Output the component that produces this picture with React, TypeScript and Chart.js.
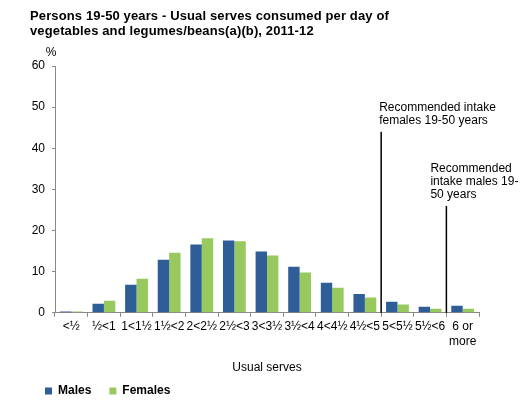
import { useEffect, useRef } from 'react';
import { Chart, registerables } from 'chart.js';
Chart.register(...registerables);

const FONT = '"Liberation Sans", Arial, sans-serif';

const titleLines = [
  'Persons 19-50 years - Usual serves consumed per day of',
  'vegetables and legumes/beans(a)(b), 2011-12',
];
const categories: (string | string[])[] = [
  '<½', '½<1', '1<1½', '1½<2', '2<2½', '2½<3', '3<3½', '3½<4', '4<4½', '4½<5', '5<5½', '5½<6', ['6 or', 'more'],
];
const males = [0.3, 2.2, 6.8, 12.9, 16.6, 17.6, 14.9, 11.2, 7.3, 4.6, 2.7, 1.5, 1.7];
const females = [0.3, 2.9, 8.3, 14.6, 18.1, 17.4, 13.9, 9.8, 6.1, 3.7, 2.0, 1.0, 1.0];
const yTicksMax = 60;
const yStep = 10;
const yUnitLabel = '%';
const xAxisTitle = 'Usual serves';

// Recommended intake reference lines (category position, top value, label lines)
const refPositions = [9.5, 11.5];
const refTops = [44, 26];
const refLabels = [
  ['Recommended intake', 'females 19-50 years'],
  ['Recommended', 'intake males 19-', '50 years'],
];
const refLabelOffsets = [-2, -16];

const overlayPlugin = {
  id: 'overlay',
  afterDraw(chart: any) {
    const ctx = chart.ctx;
    const x = chart.scales.x;
    const y = chart.scales.y;
    ctx.save();
    // title
    ctx.fillStyle = '#000';
    ctx.font = `bold 13px ${FONT}`;
    (ctx as any).letterSpacing = '0.13px';
    ctx.textAlign = 'left';
    ctx.textBaseline = 'alphabetic';
    titleLines.forEach((t, i) => ctx.fillText(t, 30, 20 + i * 15));
    (ctx as any).letterSpacing = '0px';
    // unit label
    ctx.font = `12px ${FONT}`;
    ctx.textAlign = 'center';
    ctx.fillText(yUnitLabel, chart.chartArea.left - 4, 56);
    // reference lines
    refPositions.forEach((p, i) => {
      const px = x.getPixelForValue(p);
      const top = y.getPixelForValue(refTops[i]);
      const bottom = y.getPixelForValue(0);
      ctx.strokeStyle = '#000';
      ctx.lineWidth = 1.5;
      ctx.beginPath();
      ctx.moveTo(px, top);
      ctx.lineTo(px, bottom);
      ctx.stroke();
      ctx.textAlign = 'left';
      ctx.font = `12px ${FONT}`;
      const lines = refLabels[i];
      lines.forEach((t, j) => {
        ctx.fillText(t, px + refLabelOffsets[i], top - 8 - (lines.length - 1 - j) * 13);
      });
    });
    ctx.restore();
  },
};

export default function App() {
  const ref = useRef<HTMLCanvasElement>(null);
  useEffect(() => {
    Chart.defaults.font.family = FONT;
    Chart.defaults.color = '#000';
    const chart = new Chart(ref.current!, {
      type: 'bar',
      data: {
        labels: categories,
        datasets: [
          { label: 'Males', data: males, backgroundColor: '#2F5D98', borderWidth: 0 },
          { label: 'Females', data: females, backgroundColor: '#98C95E', borderWidth: 0 },
        ],
      },
      options: {
        animation: false,
        responsive: true,
        maintainAspectRatio: false,
        layout: { padding: { left: 27, right: 47, top: 66, bottom: 6 } },
        datasets: { bar: { categoryPercentage: 0.7, barPercentage: 1 } } as any,
        plugins: {
          title: { display: false },
          tooltip: { enabled: false },
          legend: {
            position: 'bottom',
            align: 'start',
            labels: {
              boxWidth: 7,
              boxHeight: 7,
              padding: 18,
              color: '#000',
              font: { size: 12, weight: 'bold', family: FONT },
            },
          },
        },
        scales: {
          x: {
            grid: { display: true, drawOnChartArea: false, drawTicks: true, tickLength: 4, color: '#888' },
            border: { display: true, color: '#888', width: 1 },
            ticks: { autoSkip: false, maxRotation: 0, minRotation: 0, padding: 3, color: '#000', font: { size: 12, family: FONT } },
            title: { display: true, text: xAxisTitle, color: '#000', font: { size: 12, family: FONT }, padding: { top: 9, bottom: -8 } },
          },
          y: {
            min: 0,
            max: yTicksMax,
            grid: { display: true, drawOnChartArea: false, drawTicks: true, tickLength: 3, color: '#888' },
            border: { display: true, color: '#888', width: 1 },
            ticks: { stepSize: yStep, padding: 7, color: '#000', font: { size: 12, family: FONT } },
            afterFit(scale: any) {
              scale.width = 28;
            },
          },
        },
      },
      plugins: [overlayPlugin],
    });
    return () => chart.destroy();
  }, []);
  return (
    <div style={{ position: 'fixed', left: 0, top: 0, width: 526, height: 413, background: '#fff' }}>
      <canvas ref={ref} />
    </div>
  );
}
